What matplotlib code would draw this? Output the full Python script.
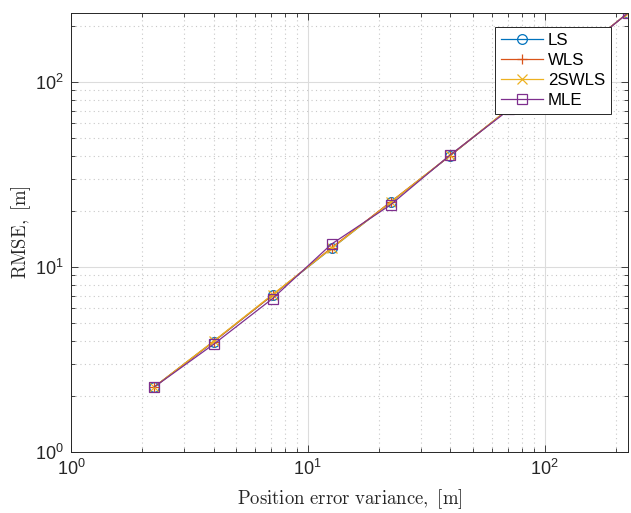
import matplotlib
matplotlib.use("Agg")
from matplotlib import pyplot as plt
import numpy as np

# position error variance (x axis)
variance = [2.25, 4.0, 7.1, 12.6, 22.4, 40.0, 71.0, 126.0, 225.0]

# RMSE for each estimator
rmse_ls = [2.25, 3.95, 7.05, 12.6, 22.4, 40.0, 72.0, 130.0, 236.0]
rmse_wls = [2.25, 3.95, 7.05, 12.7, 22.5, 40.0, 72.0, 130.0, 236.0]
rmse_2swls = [2.25, 3.97, 7.1, 12.6, 22.4, 40.2, 72.0, 130.0, 236.0]
rmse_mle = [2.25, 3.82, 6.75, 13.3, 21.7, 40.4, 71.0, 129.0, 236.0]

names = ['LS', 'WLS', '2SWLS', 'MLE']
colors = ['#0072BD', '#D95319', '#EDB120', '#7E2F8E']
markers = ['o', '+', 'x', 's']

plt.rcParams['font.family'] = ['Liberation Sans', 'DejaVu Sans']
plt.rcParams['font.size'] = 10.5

fig = plt.figure(figsize=(6.31, 5.13), dpi=100)
ax = fig.add_axes([0.1125, 0.1189, 0.8827, 0.8558])

series = [rmse_ls, rmse_wls, rmse_2swls, rmse_mle]
for vals, name, col, mk in zip(series, names, colors, markers):
    ax.plot(variance, vals, color=col, marker=mk, markersize=7, lw=0.9,
            markerfacecolor='none', markeredgewidth=0.9, label=name)

ax.set_xscale('log')
ax.set_yscale('log')
ax.set_xlim(1, 225)
ax.set_ylim(1, 236)

# matlab-ish grid
ax.grid(True, which='major', color='#dcdcdc', lw=0.8, ls='-')
ax.grid(True, which='minor', color='#c8c8c8', lw=0.8, ls=(0, (1, 3)))
ax.set_axisbelow(True)

ax.tick_params(which='both', direction='in', top=True, right=True, colors='#262626')
ax.tick_params(which='major', length=5, width=0.6, labelsize=13, pad=5)
ax.tick_params(which='minor', length=3, width=0.6)
for sp in ax.spines.values():
    sp.set_color('#262626')
    sp.set_linewidth(0.7)

ax.set_xlabel(r'$\mathrm{Position\ error\ variance,\ [m]}$', fontsize=13.5,
              math_fontfamily='cm', color='#262626', labelpad=6)
ax.set_ylabel(r'$\mathrm{RMSE,\ [m]}$', fontsize=13.5, math_fontfamily='cm',
              color='#262626', labelpad=2)

leg = ax.legend(loc='upper right', bbox_to_anchor=(0.97, 0.968), fontsize=12.2,
                fancybox=False, framealpha=1, edgecolor='#262626',
                handlelength=2.5, handletextpad=0.3, borderpad=0.35,
                labelspacing=0.3, borderaxespad=0)
leg.get_frame().set_linewidth(0.7)

fig.savefig('out.png', dpi=100)
